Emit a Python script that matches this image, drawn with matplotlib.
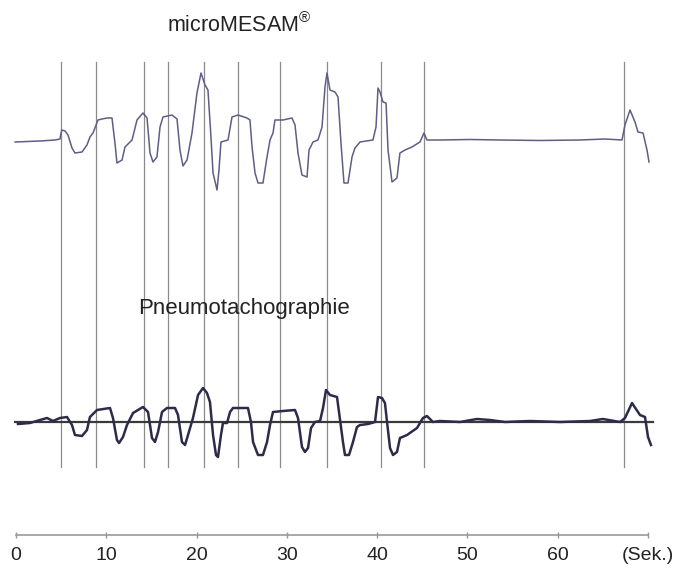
import matplotlib
matplotlib.use("Agg")
import matplotlib.pyplot as plt

# ---- data ----
# microMESAM trace: time (s) and amplitude (arbitrary units)
mesam_t = [-0.1, 2.66, 4.32, 4.87, 5.06, 5.43, 5.76, 6.2, 6.53, 7.31, 7.86, 8.19, 8.53, 9.08, 9.52,
           10.08, 10.63, 10.96, 11.18, 11.74, 12.07, 12.85, 13.4, 14.06, 14.51, 14.84, 15.17, 15.61,
           15.95, 16.28, 17.28, 17.83, 18.16, 18.49, 18.94, 19.49, 20.04, 20.49, 20.93, 21.26, 21.59,
           21.82, 22.26, 22.48, 22.7, 23.48, 23.92, 24.58, 25.58, 25.91, 26.14, 26.47, 26.8, 27.35,
           27.8, 28.13, 28.46, 28.68, 29.57, 30.56, 30.9, 31.23, 31.67, 32.23, 32.45, 32.89, 33.44,
           33.89, 34.22, 34.44, 34.77, 35.33, 35.66, 35.99, 36.32, 36.77, 37.21, 37.54, 38.1, 39.53,
           39.87, 40.09, 40.31, 40.64, 40.98, 41.2, 41.64, 42.19, 42.52, 43.08, 43.85, 44.74, 45.18,
           45.51, 46.95, 50.28, 53.6, 58.03, 62.46, 65.23, 67.11, 67.44, 68.0, 68.55, 68.88, 69.44,
           69.88, 70.1]
mesam_v = [0.0, 0.1, 0.2, 0.3, 1.2, 1.1, 0.7, -0.6, -1.1, -1.0, -0.3, 0.5, 0.9, 2.2, 2.3,
           2.4, 2.4, -0.1, -2.1, -1.8, -0.5, 0.2, 2.2, 2.9, 2.4, -1.1, -2.0, -1.5,
           1.5, 2.5, 2.7, 2.3, -0.8, -2.4, -1.8, 0.9, 4.9, 6.9, 5.7, 5.2, 0.5,
           -3.1, -4.8, -2.8, 0.0, 0.2, 2.5, 2.7, 2.4, 2.2, -0.5, -3.1, -4.1, -4.1,
           -1.5, 0.2, 0.9, 2.2, 2.2, 2.4, 1.7, -1.1, -3.3, -3.5, -0.8, 0.0, 0.2,
           1.5, 5.5, 6.9, 5.2, 5.0, 4.5, -0.1, -4.1, -4.1, -1.5, -0.6, 0.0, 0.2,
           1.5, 5.4, 5.0, 4.0, 3.9, -0.8, -4.0, -3.6, -1.1, -0.8, -0.5, 0.0, 0.9,
           0.2, 0.2, 0.25, 0.2, 0.15, 0.2, 0.3, 0.2, 1.7, 3.2, 2.0, 1.0, 0.9,
           -0.8, -2.0]

# Pneumotachographie trace: time (s) and amplitude (arbitrary units)
pneumo_t = [0.22, 1.55, 2.66, 3.43, 4.1, 4.87, 5.65, 6.2, 6.53, 7.31, 7.86, 8.19, 8.97, 10.41,
            10.74, 11.18, 11.41, 11.85, 12.29, 12.96, 14.06, 14.62, 15.06, 15.39, 15.73, 16.17,
            16.72, 17.61, 17.94, 18.38, 18.72, 19.05, 19.6, 20.16, 20.71, 21.15, 21.48, 21.82,
            22.15, 22.37, 22.7, 22.92, 23.37, 23.7, 24.03, 25.14, 25.69, 26.02, 26.25, 26.8,
            27.35, 27.8, 28.13, 28.46, 29.57, 30.9, 31.23, 31.67, 32.0, 32.34, 32.67, 33.11,
            33.67, 34.0, 34.33, 34.77, 35.55, 35.77, 36.21, 36.43, 36.88, 37.32, 37.76, 38.1,
            38.98, 39.76, 40.09, 40.53, 40.86, 41.09, 41.42, 41.75, 42.19, 42.52, 43.3, 44.41,
            45.07, 45.51, 46.18, 46.95, 49.17, 51.05, 52.49, 54.15, 56.92, 60.24, 63.57, 65.0,
            66.9, 67.44, 68.22, 69.1, 69.66, 69.99, 70.32]
pneumo_v = [-0.2, -0.1, 0.2, 0.4, 0.1, 0.4, 0.5, -0.3, -1.3, -1.4, -0.8, 0.5, 1.2, 1.4,
            0.4, -1.8, -2.1, -1.5, -0.3, 0.9, 1.5, 1.0, -1.6, -2.0, -1.0, 1.0,
            1.4, 1.4, 0.7, -2.0, -2.3, -1.3, 0.4, 2.7, 3.4, 2.9, 2.0, -1.3,
            -3.3, -3.5, -1.3, -0.1, -0.1, 1.0, 1.4, 1.4, 1.4, 0.0, -2.0, -3.3,
            -3.3, -2.0, -0.3, 1.0, 1.1, 1.2, 0.4, -2.5, -3.0, -2.6, -0.6, 0.0,
            0.1, 1.4, 3.2, 2.7, 2.5, 1.0, -2.0, -3.3, -3.3, -2.0, -0.5, -0.3,
            -0.2, 0.0, 2.5, 2.4, 1.9, 0.0, -2.6, -3.3, -3.0, -1.6, -1.3, -0.6,
            0.4, 0.6, 0.0, 0.1, 0.0, 0.3, 0.2, 0.0, 0.1, 0.0, 0.1, 0.3,
            0.0, 0.4, 1.9, 0.7, 0.5, -1.5, -2.3]

# event markers (s)
markers = [5.0, 8.9, 14.2, 16.8, 20.8, 24.6, 29.2, 34.4, 40.4, 45.2, 67.3]

# time axis
tick_vals = [0, 10, 20, 30, 40, 50, 60, 70]
tick_labels = ["0", "10", "20", "30", "40", "50", "60", "(Sek.)"]

title_top = "microMESAM$^{\u00ae}$"
title_bottom = "Pneumotachographie"

# ---- layout ----
TOP_BASE = -14.2
BOT_BASE = -42.2
plt.rcParams["font.family"] = ["Liberation Sans", "DejaVu Sans"]
plt.rcParams["mathtext.fontset"] = "custom"
plt.rcParams["mathtext.rm"] = "Liberation Sans"
plt.rcParams["mathtext.it"] = "Liberation Sans"
plt.rcParams["mathtext.default"] = "regular"

fig = plt.figure(figsize=(6.88, 5.74), dpi=100)
ax = fig.add_axes([0, 0, 1, 1])
ax.set_xlim(-1.772, 74.42)
ax.set_ylim(-57.4, 0)

for m in markers:
    ax.plot([m, m], [-6.2, -46.7], color="#8a8a8a", lw=0.9, zorder=1)

ax.plot([-0.1, 70.5], [BOT_BASE, BOT_BASE], color="#3a3a3a", lw=1.6, zorder=2)

ax.plot(mesam_t, [TOP_BASE + v for v in mesam_v], color="#5e5e86", lw=1.1, zorder=3)
ax.plot(pneumo_t, [BOT_BASE + v for v in pneumo_v], color="#2c2c4a", lw=1.8, zorder=3)

ax.text(16.7, -2.5, title_top, ha="left", va="center", fontsize=15.5, color="#222222")
ax.text(25.3, -30.8, title_bottom, ha="center", va="center", fontsize=16, color="#222222")

for s in ["top", "left", "right"]:
    ax.spines[s].set_visible(False)
ax.spines["bottom"].set_position(("data", -53.5))
ax.spines["bottom"].set_bounds(0, 70)
ax.spines["bottom"].set_color("#999999")
ax.spines["bottom"].set_linewidth(1.2)
ax.set_yticks([])
ax.set_xticks(tick_vals, tick_labels)
ax.tick_params(axis="x", direction="inout", length=5, width=1, color="#999999",
               labelsize=14, labelcolor="#222222", pad=6)

fig.savefig("out.png", dpi=100)
